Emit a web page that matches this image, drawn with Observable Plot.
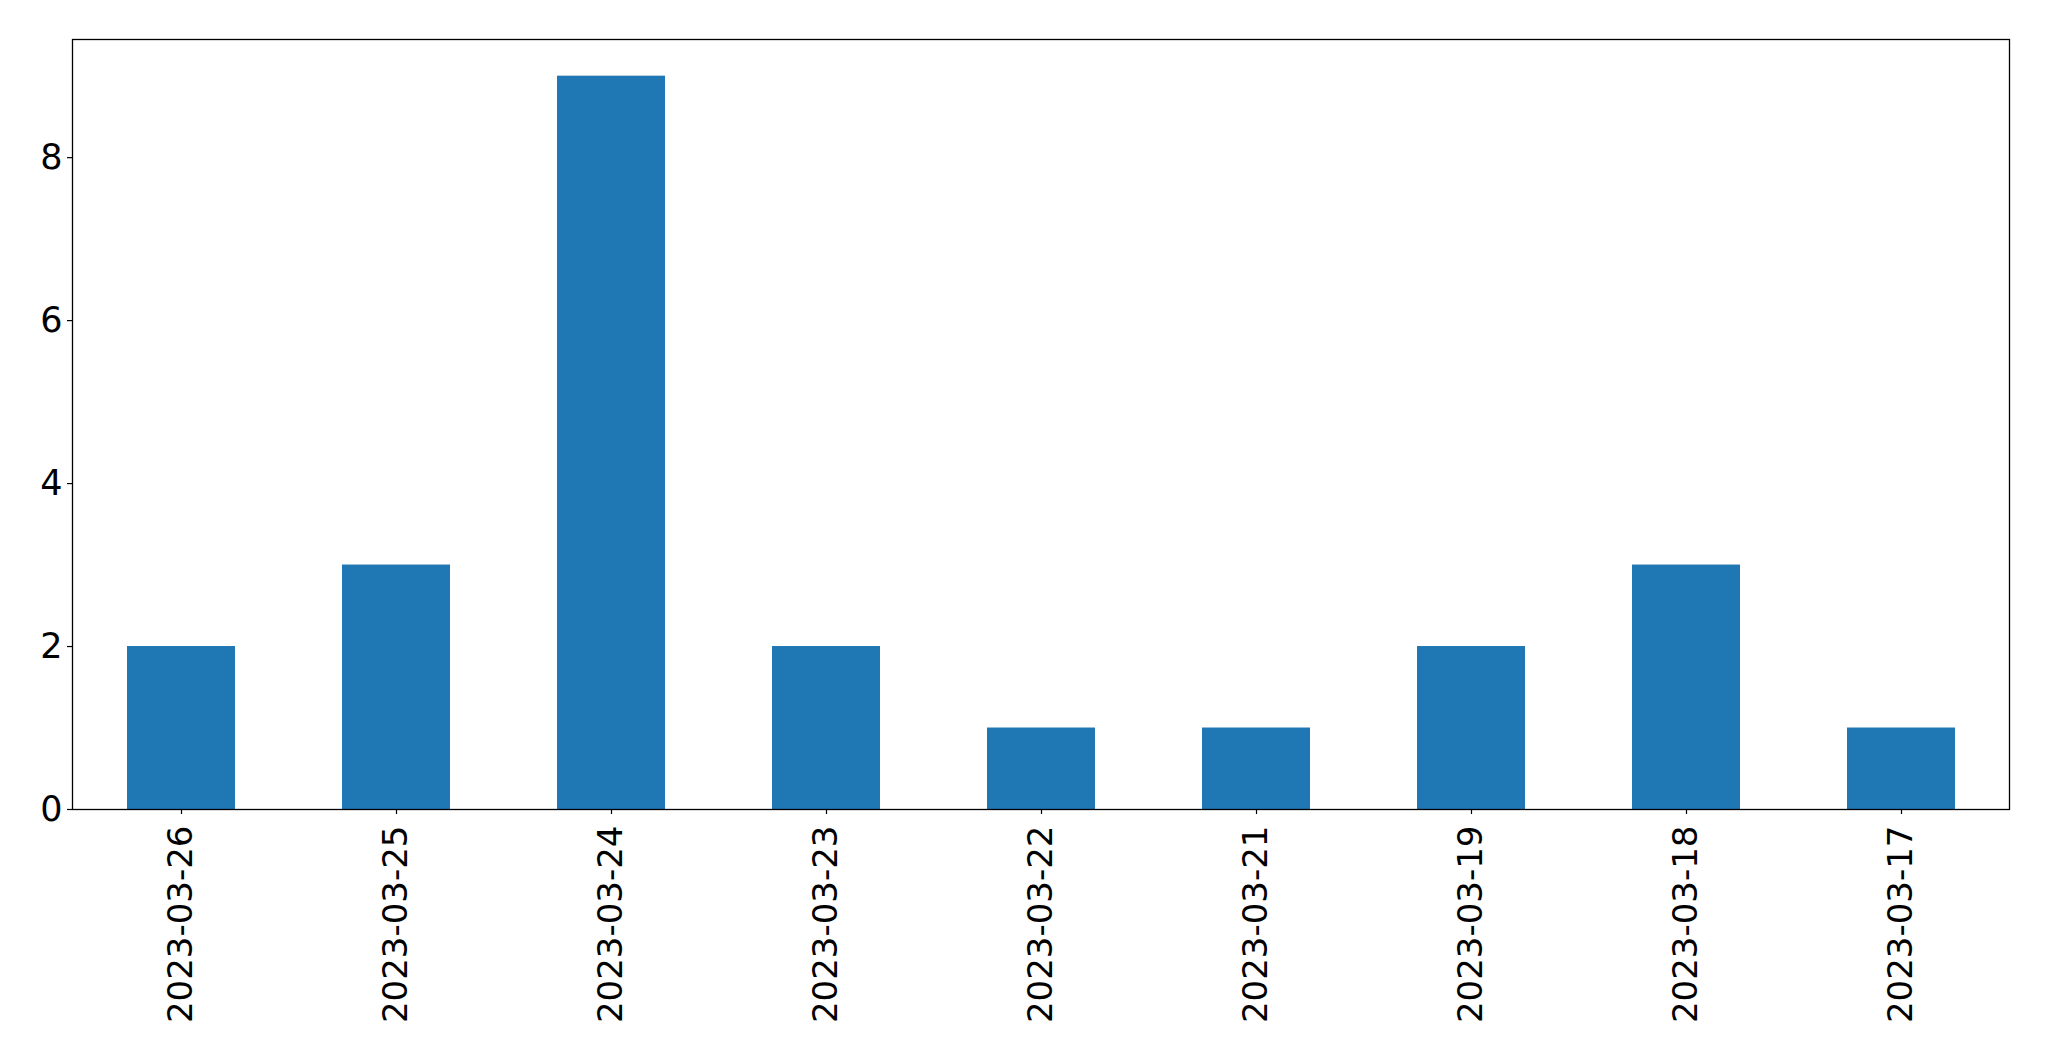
<!DOCTYPE html>
<html>
<head>
<meta charset="utf-8">
<script src="https://cdn.jsdelivr.net/npm/d3@7"></script>
<script src="https://cdn.jsdelivr.net/npm/@observablehq/plot@0.6"></script>
<style>
  html, body { margin: 0; padding: 0; background: #fff; }
  #chart svg { display: block; }
</style>
</head>
<body>
<div id="chart"></div>
<script>
const dates = ["2023-03-26", "2023-03-25", "2023-03-24", "2023-03-23", "2023-03-22", "2023-03-21", "2023-03-19", "2023-03-18", "2023-03-17"];
const counts = [2, 3, 9, 2, 1, 1, 2, 3, 1];
const yTicks = [0, 2, 4, 6, 8];

const data = dates.map((d, i) => ({date: d, count: counts[i]}));

const chart = Plot.plot({
  width: 2049,
  height: 1061,
  marginLeft: 72,
  marginRight: 40,
  marginTop: 39,
  marginBottom: 252,
  style: {fontFamily: "'DejaVu Sans', sans-serif", background: "#fff", color: "#000"},
  x: {domain: dates, paddingInner: 0.5, paddingOuter: 0.25, label: null},
  y: {domain: [0, 9.45], label: null},
  marks: [
    Plot.barY(data, {x: "date", y: "count", fill: "#1f77b4"}),
    Plot.frame({stroke: "#000", strokeWidth: 1.3}),
    Plot.axisY({ticks: yTicks, tickSize: 5, tickPadding: 5, fontSize: 35, label: null, stroke: "#000", strokeWidth: 1.2}),
    Plot.axisX({tickSize: 5, tickPadding: 11, tickRotate: -90, fontSize: 34, label: null, stroke: "#000", strokeWidth: 1.2})
  ]
});
document.getElementById("chart").appendChild(chart);
</script>
</body>
</html>
